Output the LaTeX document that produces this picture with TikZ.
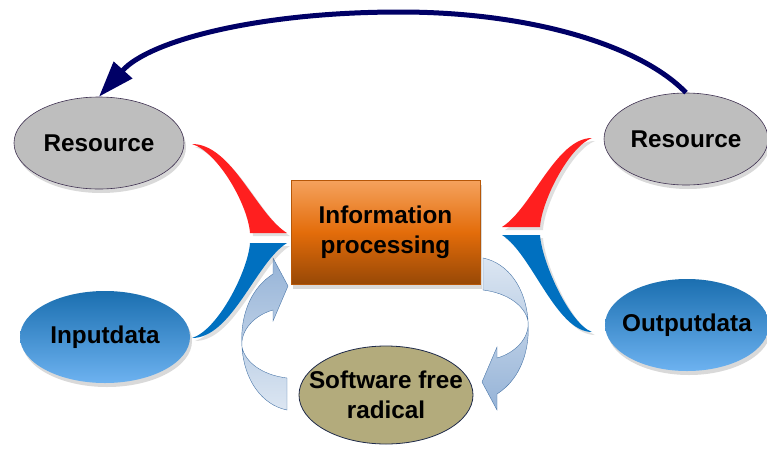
\documentclass[tikz,border=0pt]{standalone}
\usepackage{fontspec}
\setmainfont{Liberation Sans}
\usetikzlibrary{shapes,arrows.meta,shadows}
\definecolor{resgray}{HTML}{BEBEBE}
\definecolor{resline}{HTML}{3F3151}
\definecolor{datatop}{HTML}{1B6FB0}
\definecolor{databot}{HTML}{6DB2F0}
\definecolor{proctop}{HTML}{F5A25D}
\definecolor{procmid}{HTML}{E36C0A}
\definecolor{procbot}{HTML}{974806}
\definecolor{procline}{HTML}{B65708}
\definecolor{radfill}{HTML}{B3AB7C}
\definecolor{radline}{HTML}{1F2A4A}
\definecolor{flarered}{HTML}{FF1F1F}
\definecolor{flareblue}{HTML}{0070C0}
\definecolor{cycdark}{HTML}{95B3D7}
\definecolor{cyclight}{HTML}{DCE6F2}
\definecolor{cycline}{HTML}{4A76A8}
\definecolor{arcnavy}{HTML}{000066}

\begin{document}
\begin{tikzpicture}[x=1pt,y=-1pt,semithick,
	font=\fontsize{24.3}{30}\selectfont\bfseries,
	softshadow/.style={drop shadow={opacity=0.3,shadow xshift=2pt,shadow yshift=-4pt}},
	resnode/.style={ellipse,draw=resline,fill=resgray,minimum width=170pt,minimum height=92pt,inner sep=-10pt,softshadow},
	datanode/.style={ellipse,top color=datatop,bottom color=databot,minimum width=170pt,minimum height=92pt,inner sep=-10pt,softshadow},
	procnode/.style={rectangle,draw=procline,top color=proctop,bottom color=procbot,middle color=procmid,minimum width=189pt,minimum height=104pt,align=center,softshadow},
	radnode/.style={ellipse,draw=radline,fill=radfill,minimum width=174pt,minimum height=98pt,inner sep=-22pt,align=center,thick},
	cyclearrow/.style={draw=cycline,thin},
	flare/.style={drop shadow={opacity=0.25,shadow xshift=3pt,shadow yshift=-3pt}}]
	\useasboundingbox (0,0) rectangle (767,453);

	% curved block arrows round the processing box
	\shade[cyclearrow,top color=cycdark,bottom color=cyclight]
		(273,274) .. controls (248,290) and (240,320) .. (242,347)
		.. controls (244,380) and (262,405) .. (287,410) -- (287,378)
		.. controls (262,375) and (245,362) .. (242,347)
		.. controls (240,330) and (255,315) .. (273,310)
		-- (273,321) -- (288,286) -- (273,258) -- cycle;
	\shade[cyclearrow,top color=cyclight,bottom color=cycdark]
		(497,394) .. controls (522,378) and (530,348) .. (528,321)
		.. controls (526,288) and (508,263) .. (483,258) -- (483,290)
		.. controls (508,293) and (525,306) .. (528,321)
		.. controls (530,338) and (515,353) .. (497,358)
		-- (497,347) -- (482,382) -- (497,410) -- cycle;

	% red and blue flares
	\fill[flarered,flare] (192,144) .. controls (232,144) and (256,214) .. (287,233)
		-- (250,233) .. controls (248,205) and (218,152) .. cycle;
	\fill[flareblue,flare] (192,338) .. controls (232,338) and (256,262) .. (287,243)
		-- (250,243) .. controls (248,271) and (218,330) .. cycle;
	\fill[flarered,flare] (592,138) .. controls (556,138) and (532,208) .. (502,227)
		-- (540,227) .. controls (542,199) and (570,146) .. cycle;
	\fill[flareblue,flare] (592,332) .. controls (556,332) and (532,254) .. (502,235)
		-- (540,235) .. controls (542,263) and (570,324) .. cycle;

	\node[resnode]  (ResL) at (99,143) {Resource};
	\node[resnode,minimum width=164pt]  (ResR) at (686,139) {Resource};
	\node[datanode] (InL)  at (105,337) {Inputdata};
	\node[datanode,minimum width=164pt] (OutR) at (687,325) {Outputdata};
	\node[procnode] (Proc) at (385.5,232.5) {Information\\processing};
	\node[radnode]  (Rad)  at (386,395) {Software free\\radical};

	\draw[arcnavy,line width=5pt,-{Triangle[length=36pt,width=24pt]}]
		(ResR.north) .. controls (640,45) and (530,12) .. (400,12)
		.. controls (260,12) and (150,40) .. (ResL.north);
\end{tikzpicture}
\end{document}
